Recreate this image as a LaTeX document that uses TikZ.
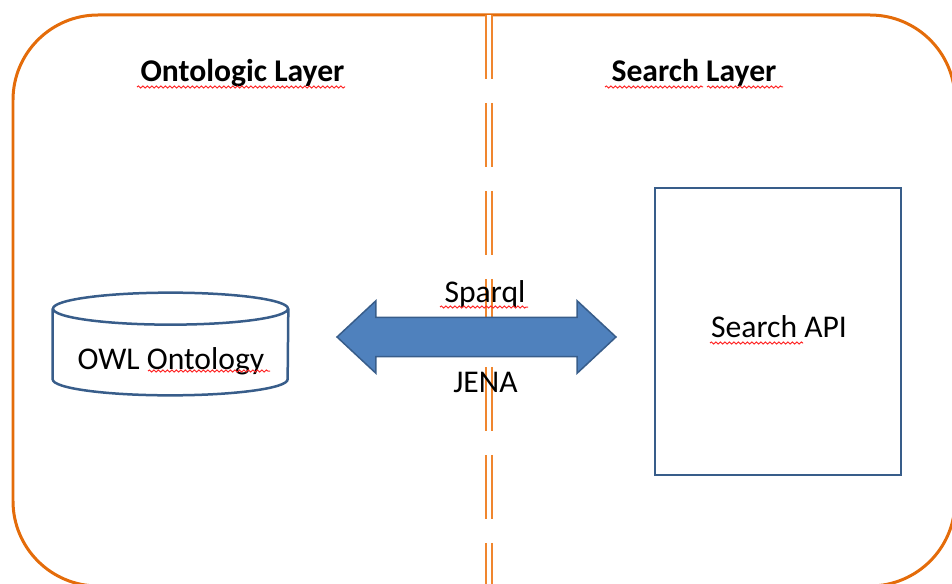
\documentclass[tikz,border=0pt]{standalone}
\usepackage{fontspec}
\setmainfont{Carlito}
\usepackage{xcolor}
\usetikzlibrary{shapes.geometric, shapes.arrows, decorations.pathmorphing}
\definecolor{frameorange}{HTML}{E46C0A}
\definecolor{lineorange}{HTML}{F0862E}
\definecolor{shapeblue}{HTML}{385D8A}
\definecolor{arrowblue}{HTML}{4F81BD}
\tikzstyle{frame}      = [draw=frameorange, line width=0.06cm, rounded corners=1.7cm]
\tikzstyle{divider}    = [draw=lineorange, line width=0.04cm, double=white, double distance=0.065cm, dash pattern=on 1.28cm off 0.48cm]
\tikzstyle{dbbody}     = [rectangle, minimum width=4.7cm, minimum height=1.4cm, inner sep=0pt]
\tikzstyle{dbline}     = [draw=shapeblue, line width=0.05cm, fill=white]
\tikzstyle{apibox}     = [rectangle, draw=shapeblue, line width=0.05cm, fill=white, minimum width=4.92cm, minimum height=5.74cm]
\tikzstyle{blockarrow} = [double arrow, draw=shapeblue, fill=arrowblue, line width=0.03cm, minimum height=5.58cm, inner xsep=0pt, inner ysep=0.38cm, double arrow head extend=0.33cm, double arrow tip angle=86]
\tikzstyle{txt}        = [anchor=base, inner sep=0pt, font=\fontsize{18}{22}\selectfont]
\tikzstyle{heading}    = [txt, font=\fontsize{18}{22}\selectfont\bfseries]
\tikzstyle{spell}      = [draw=red!85, line width=0.02cm, decorate, decoration={snake, amplitude=0.02cm, segment length=0.09cm}]

\begin{document}
\begin{tikzpicture}[x=0.02cm, y=-0.02cm]
    \useasboundingbox (0,0) rectangle (952,584);
    \clip (0,0) rectangle (952,584);
    \draw [frame] (13,15) rectangle (955,586);

    \coordinate (divtop) at (489,15);
    \coordinate (divbot) at (489,600);
    \draw [divider] (divtop) -- (divbot);

    \node (ontohead)   at (242.5,82) [heading] {Ontologic Layer};
    \node (searchhead) at (694,82)   [heading] {Search Layer};

    % database cylinder
    \node (owl) at (170.5,344) [dbbody] {};
    \draw [dbline] (owl.north west) -- (owl.south west)
        arc [start angle=180, end angle=360, x radius=2.35cm, y radius=0.32cm]
        -- (owl.north east);
    \draw [dbline] (owl.north) ellipse [x radius=2.35cm, y radius=0.32cm];
    \node (owltext) at (171,369)   [txt] {OWL Ontology};

    \node (api)     at (778,331.5) [apibox] {};
    \node (apitext) at (779,337)   [txt] {Search API};

    \node (link)   at (476.5,337) [blockarrow] {};
    \node (sparql) at (485,302)   [txt] {Sparql};
    \node (jena)   at (485.5,392) [txt] {JENA};

    % spell-check marks
    \draw [spell] (137,87) -- (345,87);
    \draw [spell] (605,87) -- (703,87);
    \draw [spell] (707,87) -- (783,87);
    \draw [spell] (440,307) -- (528,307);
    \draw [spell] (148,371) -- (270,371);
    \draw [spell] (710,343) -- (803,343);
\end{tikzpicture}
\end{document}
